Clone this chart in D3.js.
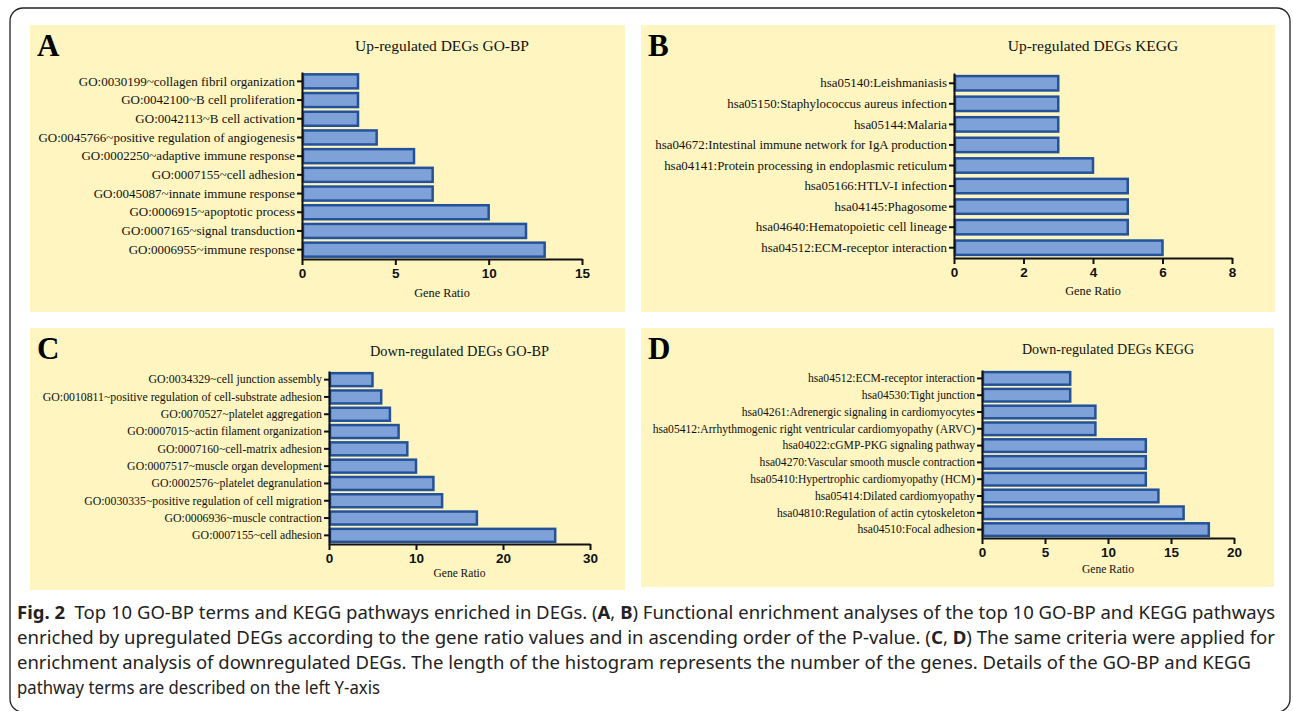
<!DOCTYPE html>
<html>
<head>
<title>GO-BP and KEGG enrichment</title>
<script src="https://d3js.org/d3.v7.min.js"></script>
<style>
body { margin: 0; background: #fff; }
</style>
</head>
<body>
<script>

// ---- data ----
var termsA = ["GO:0030199~collagen fibril organization", "GO:0042100~B cell proliferation",
  "GO:0042113~B cell activation", "GO:0045766~positive regulation of angiogenesis",
  "GO:0002250~adaptive immune response", "GO:0007155~cell adhesion",
  "GO:0045087~innate immune response", "GO:0006915~apoptotic process",
  "GO:0007165~signal transduction", "GO:0006955~immune response"];
var countsA = [3, 3, 3, 4, 6, 7, 7, 10, 12, 13];
var ticksA = [0, 5, 10, 15];

var termsB = ["hsa05140:Leishmaniasis", "hsa05150:Staphylococcus aureus infection",
  "hsa05144:Malaria", "hsa04672:Intestinal immune network for IgA production",
  "hsa04141:Protein processing in endoplasmic reticulum", "hsa05166:HTLV-I infection",
  "hsa04145:Phagosome", "hsa04640:Hematopoietic cell lineage", "hsa04512:ECM-receptor interaction"];
var countsB = [3, 3, 3, 3, 4, 5, 5, 5, 6];
var ticksB = [0, 2, 4, 6, 8];

var termsC = ["GO:0034329~cell junction assembly", "GO:0010811~positive regulation of cell-substrate adhesion",
  "GO:0070527~platelet aggregation", "GO:0007015~actin filament organization",
  "GO:0007160~cell-matrix adhesion", "GO:0007517~muscle organ development",
  "GO:0002576~platelet degranulation", "GO:0030335~positive regulation of cell migration",
  "GO:0006936~muscle contraction", "GO:0007155~cell adhesion"];
var countsC = [5, 6, 7, 8, 9, 10, 12, 13, 17, 26];
var ticksC = [0, 10, 20, 30];

var termsD = ["hsa04512:ECM-receptor interaction", "hsa04530:Tight junction",
  "hsa04261:Adrenergic signaling in cardiomyocytes",
  "hsa05412:Arrhythmogenic right ventricular cardiomyopathy (ARVC)",
  "hsa04022:cGMP-PKG signaling pathway", "hsa04270:Vascular smooth muscle contraction",
  "hsa05410:Hypertrophic cardiomyopathy (HCM)", "hsa05414:Dilated cardiomyopathy",
  "hsa04810:Regulation of actin cytoskeleton", "hsa04510:Focal adhesion"];
var countsD = [7, 7, 9, 9, 13, 13, 13, 14, 16, 18];
var ticksD = [0, 5, 10, 15, 20];

var xLabel = "Gene Ratio";

var W = 1293, H = 711;
var svg = d3.select("body").append("svg").attr("width", W).attr("height", H);

// outer frame
svg.append("rect")
  .attr("x", 10).attr("y", 8).attr("width", 1280).attr("height", 704)
  .attr("rx", 13).attr("fill", "none").attr("stroke", "#222").attr("stroke-width", 1.3);

function draw_panel(p, terms, counts, ticks){
  var g = svg.append("g");

  g.append("rect")
    .attr("x", p.bx).attr("y", p.by).attr("width", p.bw).attr("height", p.bh)
    .attr("fill", "#fef5c0");

  g.append("text")
    .attr("x", p.bx + 7).attr("y", p.by + 31)
    .attr("font-family", "Liberation Serif").attr("font-weight", "bold")
    .attr("font-size", 31).attr("fill", "#000")
    .text(p.letter);

  var x = d3.scaleLinear().domain([0, ticks[ticks.length - 1]]).range([p.x0, p.x1]);
  var y = d3.scaleBand().domain(terms).range([p.y0, p.y1])
    .paddingInner(p.pad).paddingOuter(p.pad / 2);

  g.append("text")
    .attr("x", (p.x0 + p.x1) / 2).attr("y", p.titleY)
    .attr("text-anchor", "middle")
    .attr("font-family", "Liberation Serif").attr("font-size", p.titleSize).attr("fill", "#111")
    .text(p.title);

  g.selectAll("rect.bar")
    .data(counts)
    .enter()
    .append("rect")
    .attr("class", "bar")
    .attr("x", x(0) + 1)
    .attr("y", function(d, i){ return y(terms[i]); })
    .attr("width", function(d){ return x(d) - x(0) - 1; })
    .attr("height", y.bandwidth())
    .attr("fill", "#7ea2d8")
    .attr("stroke", "#24529a")
    .attr("stroke-width", 2.5);

  var ya = g.append("g")
    .attr("transform", "translate(" + p.x0 + ",0)")
    .call(d3.axisLeft(y).tickSize(5).tickPadding(2).tickSizeOuter(0));
  ya.select(".domain").attr("stroke", "#111").attr("stroke-width", 2);
  ya.selectAll(".tick line").attr("stroke", "#111").attr("stroke-width", 2);
  ya.selectAll(".tick text")
    .attr("font-family", "Liberation Serif").attr("font-size", p.labelSize).attr("fill", "#111");

  var xa = g.append("g")
    .attr("transform", "translate(0," + p.y1 + ")")
    .call(d3.axisBottom(x).tickValues(ticks).tickSize(6).tickPadding(3).tickSizeOuter(0));
  xa.select(".domain").attr("stroke", "#111").attr("stroke-width", 2);
  xa.selectAll(".tick line").attr("stroke", "#111").attr("stroke-width", 2);
  xa.selectAll(".tick text")
    .attr("font-family", "Liberation Sans").attr("font-weight", "bold")
    .attr("font-size", 13.5).attr("fill", "#111");

  g.append("text")
    .attr("x", (p.x0 + p.x1) / 2).attr("y", p.xLabY)
    .attr("text-anchor", "middle")
    .attr("font-family", "Liberation Serif").attr("font-size", p.xLabSize).attr("fill", "#111")
    .text(xLabel);
}

draw_panel({letter: "A", title: "Up-regulated DEGs GO-BP", bx: 30, by: 25, bw: 595, bh: 287,
  x0: 302, x1: 582, y0: 72, y1: 259, pad: 0.25, titleY: 51, xLabY: 297,
  labelSize: 13, titleSize: 15.5, xLabSize: 12.3}, termsA, countsA, ticksA);
draw_panel({letter: "B", title: "Up-regulated DEGs KEGG", bx: 641, by: 25, bw: 634, bh: 287,
  x0: 954, x1: 1232, y0: 73, y1: 258, pad: 0.3, titleY: 51, xLabY: 295,
  labelSize: 12.9, titleSize: 15.5, xLabSize: 12.3}, termsB, countsB, ticksB);
draw_panel({letter: "C", title: "Down-regulated DEGs GO-BP", bx: 30, by: 328, bw: 595, bh: 262,
  x0: 329, x1: 590, y0: 371, y1: 544, pad: 0.25, titleY: 356, xLabY: 577,
  labelSize: 11.8, titleSize: 14.4, xLabSize: 11.5}, termsC, countsC, ticksC);
draw_panel({letter: "D", title: "Down-regulated DEGs KEGG", bx: 641, by: 328, bw: 633, bh: 259,
  x0: 982, x1: 1234, y0: 370, y1: 538, pad: 0.25, titleY: 354, xLabY: 573,
  labelSize: 11.6, titleSize: 14.1, xLabSize: 11.5}, termsD, countsD, ticksD);

// ---- caption ----
var captionLines = [
  [["Fig. 2", true], ["  Top 10 GO-BP terms and KEGG pathways enriched in DEGs. (", false], ["A", true], [", ", false], ["B", true],
   [") Functional enrichment analyses of the top 10 GO-BP and KEGG pathways", false]],
  [["enriched by upregulated DEGs according to the gene ratio values and in ascending order of the P-value. (", false],
   ["C", true], [", ", false], ["D", true], [") The same criteria were applied for", false]],
  [["enrichment analysis of downregulated DEGs. The length of the histogram represents the number of the genes. Details of the GO-BP and KEGG", false]],
  [["pathway terms are described on the left Y-axis", false]]
];
var captionWidths = [1258, 1258, 1234, 363];

captionLines.forEach(function(parts, i){
  var t = svg.append("text")
    .attr("x", 17).attr("y", 619 + i * 25)
    .attr("font-family", "Noto Sans").attr("font-size", 17.5).attr("fill", "#222")
    .attr("textLength", captionWidths[i]).attr("lengthAdjust", "spacingAndGlyphs")
    .attr("xml:space", "preserve").style("white-space", "pre");
  parts.forEach(function(pt){
    t.append("tspan").attr("font-weight", pt[1] ? "bold" : "normal").text(pt[0]);
  });
});

</script>
</body>
</html>
